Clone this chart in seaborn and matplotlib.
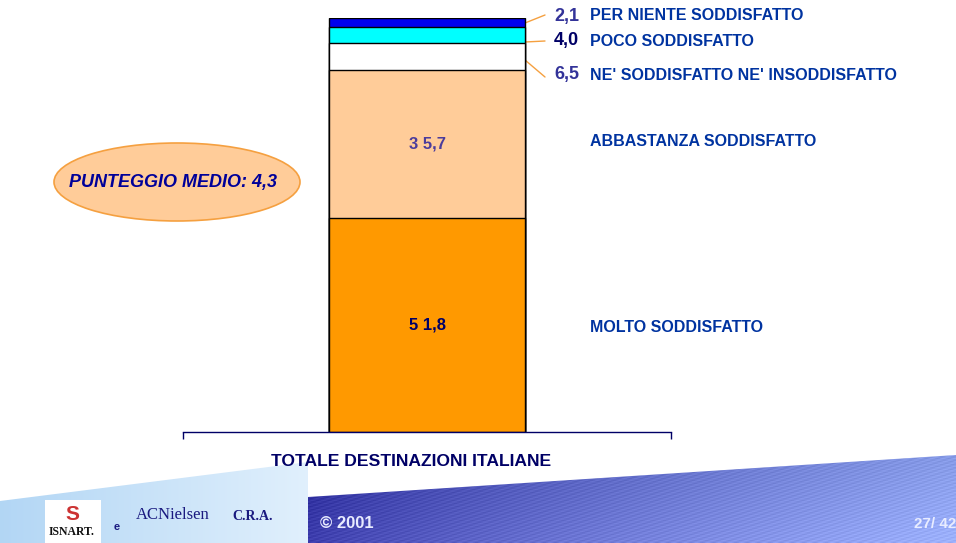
import numpy as np
import pandas as pd
import matplotlib
matplotlib.use('Agg')
import matplotlib.pyplot as plt
import seaborn as sns
from matplotlib.patches import Ellipse, Polygon, Rectangle

# data (bottom -> top of the stacked bar)
categories = ['MOLTO SODDISFATTO', 'ABBASTANZA SODDISFATTO',
              "NE' SODDISFATTO NE' INSODDISFATTO", 'POCO SODDISFATTO',
              'PER NIENTE SODDISFATTO']
values = [51.8, 35.7, 6.5, 4.0, 2.1]
seg_colors = ['#FF9900', '#FFCC99', '#FFFFFF', '#00FFFF', '#0000EE']
group = 'TOTALE DESTINAZIONI ITALIANE'
mean_label = 'PUNTEGGIO MEDIO: 4,3'

sns.set_theme(style='white')
plt.rcParams['font.family'] = ['Liberation Sans', 'DejaVu Sans']

df = pd.DataFrame({'group': group, 'cat': categories, 'val': values})
df['cum'] = df['val'].cumsum()

W, H = 956, 543
fig = plt.figure(figsize=(W / 100, H / 100), dpi=100)

# background layer in pixel coords
bg = fig.add_axes([0, 0, 1, 1], zorder=0)
bg.set_xlim(0, W)
bg.set_ylim(H, 0)
bg.axis('off')

xx = np.linspace(0, 1, 400)[None, :]
yy = np.linspace(0, 1, 60)[:, None]
dark0 = np.array([0.14, 0.14, 0.58])
dark1 = np.array([0.52, 0.60, 0.90])
t = (xx ** 0.8)[..., None]
img = dark0 * (1 - t) + dark1 * t
img = img + 0.10 * yy[..., None]
stripes = 0.04 * np.sin((xx * 400 * 0.9 + yy * 60 * 2.5))[..., None]
img = np.clip(img + stripes, 0, 1)
im = bg.imshow(img, extent=[308, W, H, 450], aspect='auto', zorder=1)
poly = Polygon([[308, H], [308, 497], [W, 455], [W, H]], closed=True,
               transform=bg.transData, facecolor='none', edgecolor='none')
bg.add_patch(poly)
im.set_clip_path(poly)

light0 = np.array([0.70, 0.84, 0.96])
light1 = np.array([0.88, 0.94, 0.99])
tl = np.linspace(0, 1, 200)[None, :, None]
img2 = light0 * (1 - tl) + light1 * tl
img2 = np.repeat(img2, 40, axis=0)
im2 = bg.imshow(img2, extent=[0, 308, H, 455], aspect='auto', zorder=1)
poly2 = Polygon([[0, H], [0, 501], [308, 462], [308, H]], closed=True,
                transform=bg.transData, facecolor='none', edgecolor='none')
bg.add_patch(poly2)
im2.set_clip_path(poly2)

# logos / footer
bg.add_patch(Rectangle((45, 500), 56, 43, facecolor='white', edgecolor='none', zorder=2))
bg.text(72, 538, 'ISNART.', ha='center', va='bottom', fontsize=8.5, fontweight='bold',
        family='Liberation Serif', color='#111111', zorder=3)
bg.text(72, 515, 'S', ha='center', va='center', fontsize=15, fontweight='bold',
        color='#CC3333', zorder=3)
bg.text(117, 527, 'e', ha='center', va='center', fontsize=8, fontweight='bold',
        color='#1A1A80', zorder=3)
bg.text(136, 515, 'ACNielsen', ha='left', va='center', fontsize=12,
        family='Liberation Serif', color='#1A1A80', zorder=3)
bg.text(232, 517, 'C.R.A.', ha='left', va='center', fontsize=10, fontweight='bold',
        family='Liberation Serif', color='#1A1A80', zorder=3)
bg.text(320, 524, '© 2001', ha='left', va='center', fontsize=12, fontweight='bold',
        color='#E8ECFF', zorder=3)
bg.text(956, 524, '27/ 42', ha='right', va='center', fontsize=11, fontweight='bold',
        color='#E8ECFF', zorder=3)

# average score ellipse
bg.add_patch(Ellipse((177, 182), 246, 78, facecolor='#FFCC99', edgecolor='#F5A040',
                     linewidth=1.2, zorder=2))
bg.text(173, 182, mean_label, ha='center', va='center', fontsize=13,
        fontweight='bold', style='italic', color='#000099', zorder=3)

# main stacked bar
ax = fig.add_axes([183 / W, 1 - 432 / H, 488 / W, 414 / H], zorder=2)
ax.patch.set_alpha(0)
for i in range(len(categories) - 1, -1, -1):
    sns.barplot(data=df.iloc[[i]], x='group', y='cum', color=seg_colors[i],
                saturation=1, width=0.4, edgecolor='black', linewidth=1, ax=ax)
ax.set_xlim(-0.5, 0.5)
ax.set_ylim(0, df['cum'].iloc[-1])
ax.set_xticks([-0.5, 0.5])
ax.set_xticklabels([])
ax.tick_params(axis='x', direction='out', length=5, width=1, color='#000066', bottom=True)
ax.set_yticks([])
ax.set_xlabel('')
ax.set_ylabel('')
for s in ['top', 'left', 'right']:
    ax.spines[s].set_visible(False)
ax.spines['bottom'].set_color('#000066')
ax.spines['bottom'].set_linewidth(1)

# labels inside the two large segments
inside = {0: ('5 1,8', '#000066'), 1: ('3 5,7', '#4B3C9C')}
for i, (txt, col) in inside.items():
    mid = df['cum'].iloc[i] - df['val'].iloc[i] / 2
    ax.text(0, mid, txt, ha='center', va='center', fontsize=12, fontweight='bold', color=col)

# right side labels (in pixel coords)
def fmt(v):
    return f'{v:.1f}'.replace('.', ',')

lab_fs = 11.5
bg.text(590, 327, categories[0], ha='left', va='center', fontsize=lab_fs,
        fontweight='bold', color='#0033A0', zorder=3)
bg.text(590, 141, categories[1], ha='left', va='center', fontsize=lab_fs,
        fontweight='bold', color='#0033A0', zorder=3)
small = [(2, 75, '#333399', (525, 60), (545, 77)),
         (3, 41, '#000066', (525, 42), (545, 41)),
         (4, 16, '#333399', (525, 23), (545, 15))]
for i, ypix, col, p0, p1 in small:
    bg.text(579, ypix, fmt(values[i]), ha='right', va='center', fontsize=13,
            fontweight='bold', color=col, zorder=3)
    bg.text(590, ypix, categories[i], ha='left', va='center', fontsize=lab_fs,
            fontweight='bold', color='#0033A0', zorder=3)
    bg.plot([p0[0], p1[0]], [p0[1], p1[1]], color='#F5A040', lw=1, zorder=3)

fig.text(411 / W, 1 - 462 / H, group, ha='center', va='center', fontsize=12.6,
         fontweight='bold', color='#000066')

fig.savefig('out.png', dpi=100)
